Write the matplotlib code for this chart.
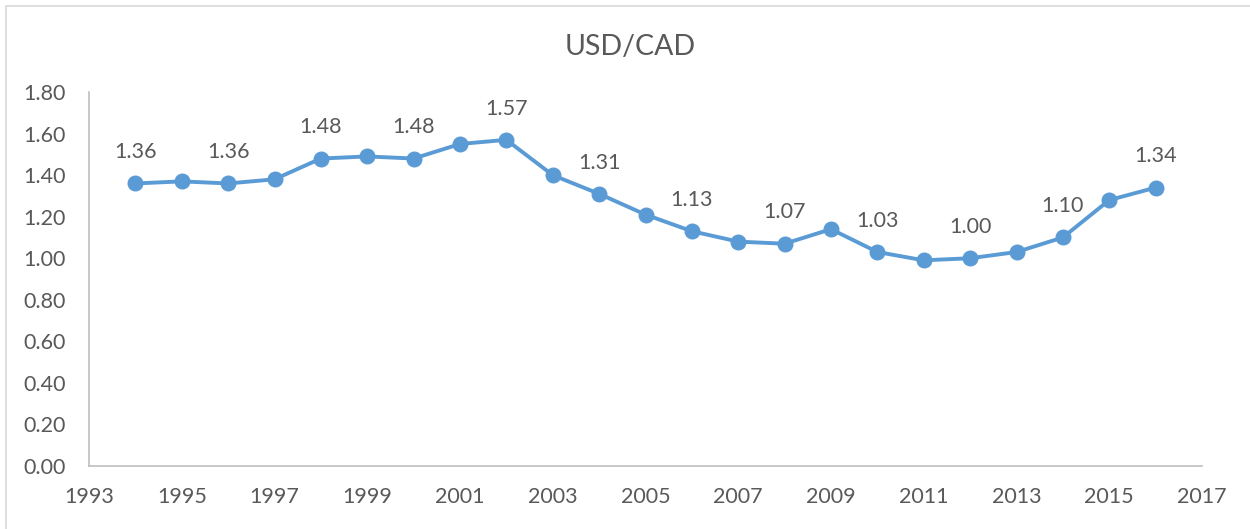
import matplotlib
matplotlib.use("Agg")
import matplotlib.pyplot as plt
from matplotlib.patches import Rectangle

# taxa de cambio USD/CAD, media anual
anos = [1994, 1995, 1996, 1997, 1998, 1999, 2000, 2001, 2002, 2003, 2004, 2005,
        2006, 2007, 2008, 2009, 2010, 2011, 2012, 2013, 2014, 2015, 2016]
taxa = [1.36, 1.37, 1.36, 1.38, 1.48, 1.49, 1.48, 1.55, 1.57, 1.40, 1.31, 1.21,
        1.13, 1.08, 1.07, 1.14, 1.03, 0.99, 1.00, 1.03, 1.10, 1.28, 1.34]
anos_rotulo = [1994, 1996, 1998, 2000, 2002, 2004, 2006, 2008, 2010, 2012, 2014, 2016]
x_ticks = list(range(1993, 2018, 2))
y_ticks = [0.0, 0.2, 0.4, 0.6, 0.8, 1.0, 1.2, 1.4, 1.6, 1.8]

plt.rcParams['font.family'] = ['Lato', 'DejaVu Sans']
cinza = '#595959'
azul = '#5B9BD5'

fig = plt.figure(figsize=(12.5, 5.29), dpi=100)
ax = fig.add_axes([0.0712, 0.1191, 0.8904, 0.7069])

# moldura externa do grafico
fig.patches.append(Rectangle((6 / 1250, -0.1), 1.2, 1 - 6 / 529 + 0.1,
                             transform=fig.transFigure, fill=False,
                             edgecolor='#D9D9D9', linewidth=1.2))

ax.plot(anos, taxa, color=azul, linewidth=2.8, marker='o', markersize=10.5,
        zorder=3)

for a, v in zip(anos, taxa):
    if a in anos_rotulo:
        ax.annotate(f'{v:.2f}', (a, v), xytext=(0, 22.5), textcoords='offset points',
                    ha='center', va='center', fontsize=15.5, color=cinza)

ax.set_xlim(1993, 2017)
ax.set_ylim(0, 1.8)
ax.set_xticks(x_ticks)
ax.set_yticks(y_ticks)
ax.set_yticklabels([f'{t:.2f}' for t in y_ticks])
ax.tick_params(length=0, labelsize=15.5, labelcolor=cinza)
ax.tick_params(axis='x', pad=15)
ax.tick_params(axis='y', pad=17)

for lado in ['top', 'right']:
    ax.spines[lado].set_visible(False)
for lado in ['left', 'bottom']:
    ax.spines[lado].set_color('#BFBFBF')
    ax.spines[lado].set_linewidth(1.2)

fig.text(630 / 1250, 1 - 47 / 529, 'USD/CAD', ha='center', va='center',
         fontsize=20.5, color=cinza)

plt.savefig('out.png', dpi=100)
